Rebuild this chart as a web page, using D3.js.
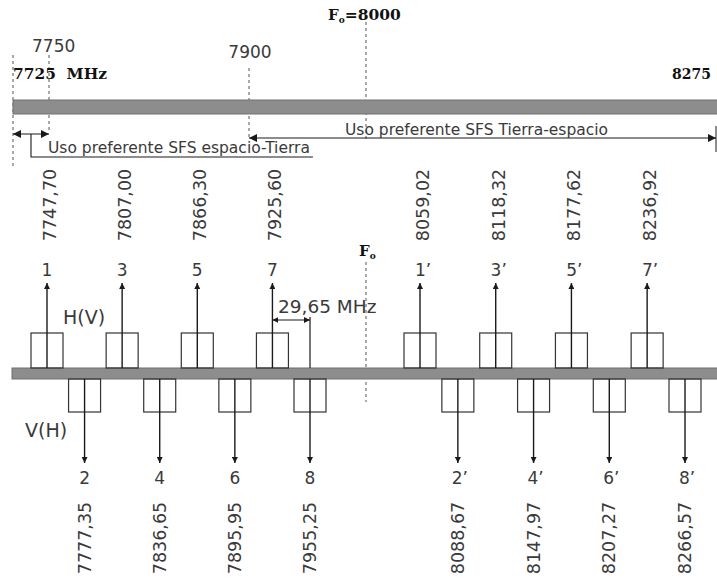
<!DOCTYPE html>
<html><head><meta charset="utf-8">
<script src="https://cdn.jsdelivr.net/npm/d3@7"></script>
<style>body{margin:0;background:#fff}svg{display:block}</style>
</head><body>
<svg id="c" width="717" height="581"></svg>
<script>
// ---- data ----
const bandEdges = [7725, 7750, 7900, 8000, 8275];           // MHz marks on the upper band
const bandLabels = ["7725 MHz", "7750", "7900", "8000", "8275"];
const centerFreq = 8000;
const upChannels = ["1","3","5","7","1’","3’","5’","7’"];
const upFreqs = [7747.70, 7807.00, 7866.30, 7925.60, 8059.02, 8118.32, 8177.62, 8236.92];
const downChannels = ["2","4","6","8","2’","4’","6’","8’"];
const downFreqs = [7777.35, 7836.65, 7895.95, 7955.25, 8088.67, 8147.97, 8207.27, 8266.57];
const spacingMHz = 29.65;
const usageBands = [
  {name: "Uso preferente SFS espacio-Tierra", from: 7725, to: 7750},
  {name: "Uso preferente SFS Tierra-espacio", from: 7900, to: 8275}
];
const polLabels = ["H(V)", "V(H)"];

// ---- scales (schematic, piecewise linear) ----
const xTop = d3.scaleLinear().domain(bandEdges).range([13, 49, 249, 366, 716]);
const xBot = d3.scaleLinear()
  .domain([upFreqs[0], downFreqs[3], centerFreq, upFreqs[4], downFreqs[7]])
  .range([47, 310, 366, 420, 685]);
const fmt = v => d3.format(".2f")(v).replace(".", ",");

const svg = d3.select("#c");
const ink = "#1a1a1a", txt = "#3a3a3a", barFill = "#8d8d8d";
const sans = "'DejaVu Sans', Verdana, sans-serif";
const serif = "'DejaVu Serif', Georgia, serif";

const defs = svg.append("defs");
defs.append("marker").attr("id","ah").attr("viewBox","0 0 10 10")
  .attr("refX",10).attr("refY",5).attr("markerWidth",6).attr("markerHeight",6)
  .attr("markerUnits","userSpaceOnUse").attr("orient","auto-start-reverse")
  .append("path").attr("d","M0,0L10,5L0,10z").attr("fill",ink);
defs.append("marker").attr("id","ah2").attr("viewBox","0 0 10 10")
  .attr("refX",10).attr("refY",5).attr("markerWidth",8).attr("markerHeight",8)
  .attr("markerUnits","userSpaceOnUse").attr("orient","auto-start-reverse")
  .append("path").attr("d","M0,0L10,5L0,10z").attr("fill",ink);

// ===== upper band =====
const gTop = svg.append("g");
const dashSpec = [
  {f: bandEdges[0], y1: 55, y2: 168},
  {f: bandEdges[1], y1: 55, y2: 132},
  {f: bandEdges[2], y1: 68, y2: 140},
  {f: bandEdges[3], y1: 22, y2: 142}
];
gTop.selectAll("line.d").data(dashSpec).join("line")
  .attr("x1", d => xTop(d.f)).attr("x2", d => xTop(d.f))
  .attr("y1", d => d.y1).attr("y2", d => d.y2)
  .attr("stroke", "#555").attr("stroke-width", 1).attr("stroke-dasharray", "3,3");

gTop.append("rect").attr("x", xTop(bandEdges[0])).attr("y", 100)
  .attr("width", xTop(bandEdges[4]) + 10 - xTop(bandEdges[0])).attr("height", 14)
  .attr("fill", barFill).attr("stroke", "#707070").attr("stroke-width", 1);

// labels
gTop.append("text").attr("x", xTop(bandEdges[0])).attr("y", 79)
  .attr("font-family", serif).attr("font-weight", "bold").attr("font-size", 15)
  .attr("fill", "#111").attr("textLength", 94).attr("lengthAdjust","spacingAndGlyphs")
  .text(bandLabels[0].replace(" ", "\u00a0\u00a0"));
gTop.append("text").attr("x", xTop(bandEdges[1]) - 17).attr("y", 52)
  .attr("font-family", sans).attr("font-size", 17).attr("fill", txt).text(bandLabels[1]);
gTop.append("text").attr("x", xTop(bandEdges[2]) + 1).attr("y", 58).attr("text-anchor","middle")
  .attr("font-family", sans).attr("font-size", 17).attr("fill", txt).text(bandLabels[2]);
const f0t = gTop.append("text").attr("x", 328).attr("y", 20)
  .attr("font-family", serif).attr("font-weight", "bold").attr("font-size", 15).attr("fill", "#111");
f0t.append("tspan").text("F");
f0t.append("tspan").attr("font-size", 9).attr("dy", 3).text("o");
f0t.append("tspan").attr("dy", -3).attr("textLength", 56).attr("lengthAdjust","spacingAndGlyphs")
  .text("=" + bandLabels[3]);
gTop.append("text").attr("x", xTop(bandEdges[4]) - 44).attr("y", 79)
  .attr("font-family", serif).attr("font-weight", "bold").attr("font-size", 14)
  .attr("fill", "#111")
  .text(bandLabels[4]);

// usage arrows
const ub0 = usageBands[0], ub1 = usageBands[1];
gTop.append("line").attr("x1", xTop(ub0.from)).attr("x2", xTop(ub0.to)).attr("y1", 134).attr("y2", 134)
  .attr("stroke", ink).attr("stroke-width", 1.2)
  .attr("marker-start", "url(#ah2)").attr("marker-end", "url(#ah2)");
const t0 = gTop.append("text").attr("x", 48).attr("y", 153)
  .attr("font-family", sans).attr("font-size", 15.5).attr("fill", txt).text(ub0.name);
const t0w = t0.node().getComputedTextLength();
gTop.append("path")
  .attr("d", `M${(xTop(ub0.from)+xTop(ub0.to))/2},134V157H${48 + t0w + 3}`)
  .attr("fill", "none").attr("stroke", ink).attr("stroke-width", 1.1);

gTop.append("line").attr("x1", xTop(ub1.from)).attr("x2", xTop(ub1.to)).attr("y1", 138).attr("y2", 138)
  .attr("stroke", ink).attr("stroke-width", 1.2)
  .attr("marker-start", "url(#ah2)").attr("marker-end", "url(#ah2)");
gTop.append("line").attr("x1", xTop(ub1.to)).attr("x2", xTop(ub1.to)).attr("y1", 126).attr("y2", 152)
  .attr("stroke", ink).attr("stroke-width", 1);
gTop.append("text").attr("x", 345).attr("y", 135)
  .attr("font-family", sans).attr("font-size", 15.5).attr("fill", txt).text(ub1.name);

// ===== channel plan =====
const gB = svg.append("g");
const barTop = 368, barBot = 379, boxH = 35, boxW = 32;

gB.append("line").attr("x1", xBot(centerFreq)).attr("x2", xBot(centerFreq)).attr("y1", 262).attr("y2", 402)
  .attr("stroke", "#555").attr("stroke-dasharray", "3,3");
const f0b = gB.append("text").attr("x", xBot(centerFreq) - 7).attr("y", 256)
  .attr("font-family", serif).attr("font-weight", "bold").attr("font-size", 15).attr("fill", "#111");
f0b.append("tspan").text("F");
f0b.append("tspan").attr("font-size", 9).attr("dy", 3).text("o");

gB.append("rect").attr("x", 12).attr("y", barTop).attr("width", 710).attr("height", barBot - barTop)
  .attr("fill", barFill).attr("stroke", "#707070");

const up = upFreqs.map((f, i) => ({f, name: upChannels[i]}));
const down = downFreqs.map((f, i) => ({f, name: downChannels[i]}));

gB.selectAll("rect.u").data(up).join("rect")
  .attr("x", d => xBot(d.f) - boxW/2).attr("y", barTop - boxH).attr("width", boxW).attr("height", boxH)
  .attr("fill", "none").attr("stroke", "#333").attr("stroke-width", 1.2);
gB.selectAll("line.u").data(up).join("line")
  .attr("x1", d => xBot(d.f)).attr("x2", d => xBot(d.f)).attr("y1", barTop).attr("y2", 283)
  .attr("stroke", ink).attr("stroke-width", 1.4).attr("marker-end", "url(#ah)");
gB.selectAll("text.un").data(up).join("text")
  .attr("x", d => xBot(d.f) + (d.name.length > 1 ? 3 : 0)).attr("y", 276).attr("text-anchor", "middle")
  .attr("font-family", sans).attr("font-size", 17).attr("fill", txt).text(d => d.name);
gB.selectAll("text.uf").data(up).join("text")
  .attr("transform", d => `translate(${xBot(d.f) + 9},205) rotate(-90)`).attr("text-anchor", "middle")
  .attr("font-family", sans).attr("font-size", 17.5).attr("fill", txt).text(d => fmt(d.f));

gB.selectAll("rect.d").data(down).join("rect")
  .attr("x", d => xBot(d.f) - boxW/2).attr("y", barBot).attr("width", boxW).attr("height", boxH - 2)
  .attr("fill", "none").attr("stroke", "#333").attr("stroke-width", 1.2);
gB.selectAll("line.d").data(down).join("line")
  .attr("x1", d => xBot(d.f)).attr("x2", d => xBot(d.f)).attr("y1", barBot).attr("y2", 463)
  .attr("stroke", ink).attr("stroke-width", 1.4).attr("marker-end", "url(#ah)");
gB.selectAll("text.dn").data(down).join("text")
  .attr("x", d => xBot(d.f) + (d.name.length > 1 ? 2 : 0)).attr("y", 484).attr("text-anchor", "middle")
  .attr("font-family", sans).attr("font-size", 17).attr("fill", txt).text(d => d.name);
gB.selectAll("text.df").data(down).join("text")
  .attr("transform", d => `translate(${xBot(d.f) + 6},538) rotate(-90)`).attr("text-anchor", "middle")
  .attr("font-family", sans).attr("font-size", 17.5).attr("fill", txt).text(d => fmt(d.f));

gB.append("text").attr("x", 63).attr("y", 324).attr("font-family", sans).attr("font-size", 19)
  .attr("fill", txt).text(polLabels[0]);
gB.append("text").attr("x", 25).attr("y", 437).attr("font-family", sans).attr("font-size", 19)
  .attr("fill", txt).text(polLabels[1]);

const xa = xBot(upFreqs[3]), xb = xBot(upFreqs[3] + spacingMHz);
gB.append("line").attr("x1", xb).attr("x2", xb).attr("y1", 317).attr("y2", barTop)
  .attr("stroke", ink).attr("stroke-width", 1.2);
gB.append("line").attr("x1", xa).attr("x2", xb).attr("y1", 320).attr("y2", 320)
  .attr("stroke", ink).attr("stroke-width", 1.1)
  .attr("marker-start", "url(#ah)").attr("marker-end", "url(#ah)");
gB.append("text").attr("x", 278).attr("y", 313).attr("font-family", sans).attr("font-size", 18.5)
  .attr("fill", txt).text(fmt(spacingMHz) + " MHz");
</script>
</body></html>
